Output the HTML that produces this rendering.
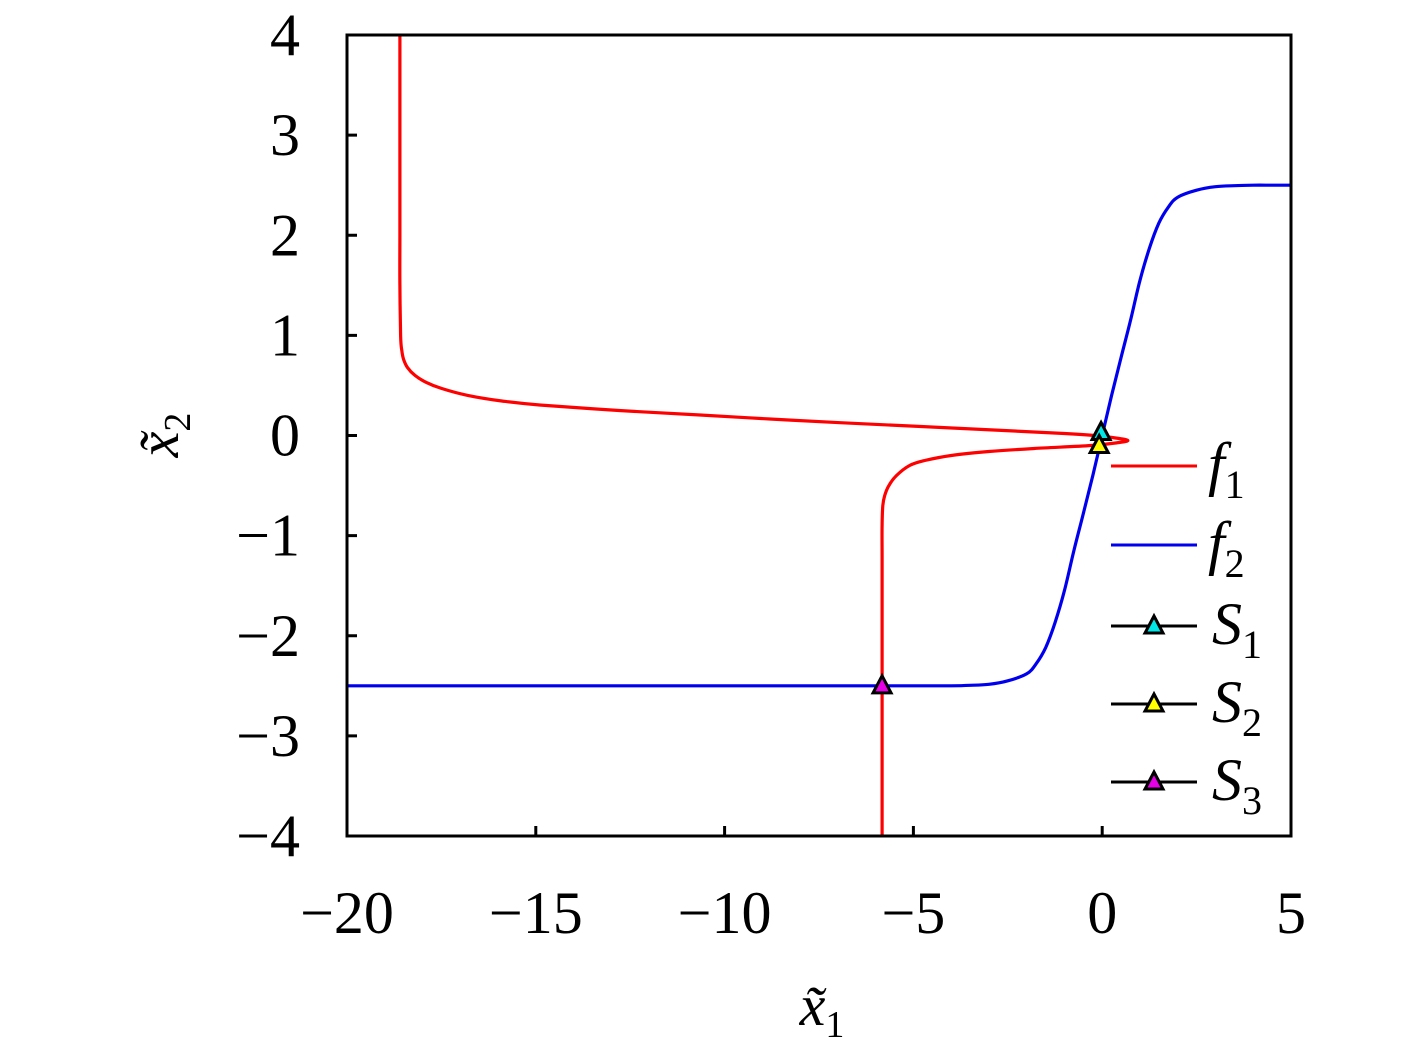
<!DOCTYPE html>
<html><head><meta charset="utf-8"><style>
html,body{margin:0;padding:0;background:#fff;}
svg{display:block;}
text{font-family:"Liberation Serif",serif;fill:#000;}
</style></head><body>
<svg id="chart" width="1417" height="1058" viewBox="0 0 1417 1058">
<g id="plot"></g>
</svg>
<script>
const xTicks=[-20,-15,-10,-5,0,5];
const xTickLabels=["\u221220","\u221215","\u221210","\u22125","0","5"];
const yTicks=[-4,-3,-2,-1,0,1,2,3,4];
const yTickLabels=["\u22124","\u22123","\u22122","\u22121","0","1","2","3","4"];
// f1: x1 as a function of x2 (curve traced in order)
const f1X2=[4,3.5,3,2.5,2,1.5,1.0,0.85,0.76,0.68,0.6,0.53,0.47,0.40,0.345,0.305,0.25,0.205,0.165,0.128,0.09,0.05,0.02,0.0,-0.03,-0.05,-0.07,-0.1,-0.13,-0.16,-0.2,-0.25,-0.3,-0.4,-0.5,-0.6,-0.7,-0.9,-1.2,-1.5,-2,-2.5,-3,-3.5,-4];
const f1X1=[-18.6,-18.6,-18.6,-18.6,-18.6,-18.6,-18.58,-18.55,-18.5,-18.4,-18.2,-17.9,-17.5,-16.8,-15.9,-14.9,-12.8,-10.65,-8.8,-6.94,-4.8,-2.6,-1.0,-0.2,0.45,0.68,0.45,-0.3,-1.8,-3.0,-4.0,-4.7,-5.1,-5.45,-5.65,-5.76,-5.81,-5.83,-5.83,-5.83,-5.83,-5.83,-5.83,-5.83,-5.83];
// f2: x2 as a function of x1
const f2X1=[-20,-18,-16,-14,-12,-10,-8,-6,-5,-4,-3.5,-3,-2.5,-2,-1.75,-1.5,-1.25,-1,-0.75,-0.5,-0.25,0,0.25,0.5,0.75,1,1.25,1.5,1.75,2,2.5,3,3.5,4,4.5,5];
const f2X2=[-2.5,-2.5,-2.5,-2.5,-2.5,-2.5,-2.5,-2.5,-2.5,-2.5,-2.495,-2.485,-2.45,-2.38,-2.28,-2.12,-1.87,-1.55,-1.15,-0.78,-0.4,0,0.4,0.78,1.15,1.55,1.87,2.12,2.28,2.38,2.45,2.485,2.495,2.5,2.5,2.5];
const ptNames=["S1","S2","S3"];
const ptX1=[-0.03,-0.08,-5.83];
const ptX2=[0.03,-0.1,-2.5];
const ptColors=["#00e5e5","#ffff00","#e600e6"];

const NS="http://www.w3.org/2000/svg";
const L=347,R=1291,T=35,B=836;
const sx=v=>L+(v+20)/25*(R-L);
const sy=v=>B-(v+4)/8*(B-T);
const g=document.getElementById('plot');
function mk(tag,attrs,parent){const e=document.createElementNS(NS,tag);for(const k in attrs)e.setAttribute(k,attrs[k]);(parent||g).appendChild(e);return e;}
function smooth(P){
  let d='M'+P[0][0].toFixed(1)+','+P[0][1].toFixed(1);
  for(let i=0;i<P.length-1;i++){
    const p0=P[Math.max(0,i-1)],p1=P[i],p2=P[i+1],p3=P[Math.min(P.length-1,i+2)];
    const c1=[p1[0]+(p2[0]-p0[0])/6,p1[1]+(p2[1]-p0[1])/6];
    const c2=[p2[0]-(p3[0]-p1[0])/6,p2[1]-(p3[1]-p1[1])/6];
    d+='C'+c1[0].toFixed(1)+','+c1[1].toFixed(1)+' '+c2[0].toFixed(1)+','+c2[1].toFixed(1)+' '+p2[0].toFixed(1)+','+p2[1].toFixed(1);
  }
  return d;
}

const clip=mk('clipPath',{id:'cp'});
mk('rect',{x:L,y:T,width:R-L,height:B-T},clip);

const blue=mk('path',{d:smooth(f2X1.map((v,i)=>[sx(v),sy(f2X2[i])])),fill:'none',stroke:'#0000ee','stroke-width':3.2,'clip-path':'url(#cp)'});



const red=mk('path',{d:smooth(f1X1.map((v,i)=>[sx(v),sy(f1X2[i])])),fill:'none',stroke:'#ff0000','stroke-width':3.2,'stroke-linejoin':'round','clip-path':'url(#cp)'});



function tri(cx,cy,col,name){
  const s=mk('path',{d:`M${cx},${cy-10}L${cx+9},${cy+7}L${cx-9},${cy+7}Z`,fill:col,stroke:'#000','stroke-width':3,'stroke-linejoin':'miter'});
  
  
}
ptX1.forEach((v,i)=>tri(sx(v),sy(ptX2[i]),ptColors[i],'point-'+ptNames[i].toLowerCase()));

const box=mk('rect',{x:L,y:T,width:R-L,height:B-T,fill:'none',stroke:'#000','stroke-width':3});



xTicks.forEach((v,i)=>{
  const x=sx(v);
  const t=mk('line',{x1:x,y1:B,x2:x,y2:B-10,stroke:'#000','stroke-width':3});
  
  
  const lb=mk('text',{x:x,y:933,'text-anchor':'middle','font-size':60});
  lb.textContent=xTickLabels[i];
  
  
});
yTicks.forEach((v,i)=>{
  const y=sy(v);
  const t=mk('line',{x1:L,y1:y,x2:L+10,y2:y,stroke:'#000','stroke-width':3});
  
  
  const lb=mk('text',{x:300,y:y+20,'text-anchor':'end','font-size':60});
  lb.textContent=yTickLabels[i];
  
  
});

const xt=mk('text',{x:822,y:1025,'text-anchor':'middle','font-size':58,'font-style':'italic'});
xt.innerHTML='x\u0303<tspan font-size="38" font-style="normal" dy="12">1</tspan>';


const yt=mk('text',{x:0,y:0,'text-anchor':'middle','font-size':58,'font-style':'italic',transform:'translate(178,435) rotate(-90)'});
yt.innerHTML='x\u0303<tspan font-size="38" font-style="normal" dy="12">2</tspan>';



const legLabels=['f','f','S','S','S'];
const legSubs=['1','2','1','2','3'];
const legY=[466,545,626,704,782];
const legCol=['#ff0000','#0000ee','#000','#000','#000'];
legY.forEach((y,i)=>{
  const ln=mk('line',{x1:1111,y1:y,x2:1197,y2:y,stroke:legCol[i],'stroke-width':3});
  
  
  if(i>=2) tri(1154,y,ptColors[i-2],'legend-marker-s'+legSubs[i]);
  const tx=mk('text',{x:i<2?1208:1212,y:y+18,'font-size':60,'font-style':'italic'});
  tx.innerHTML=legLabels[i]+'<tspan font-size="40" font-style="normal" dy="14">'+legSubs[i]+'</tspan>';
  
  
});
</script>
</body></html>
